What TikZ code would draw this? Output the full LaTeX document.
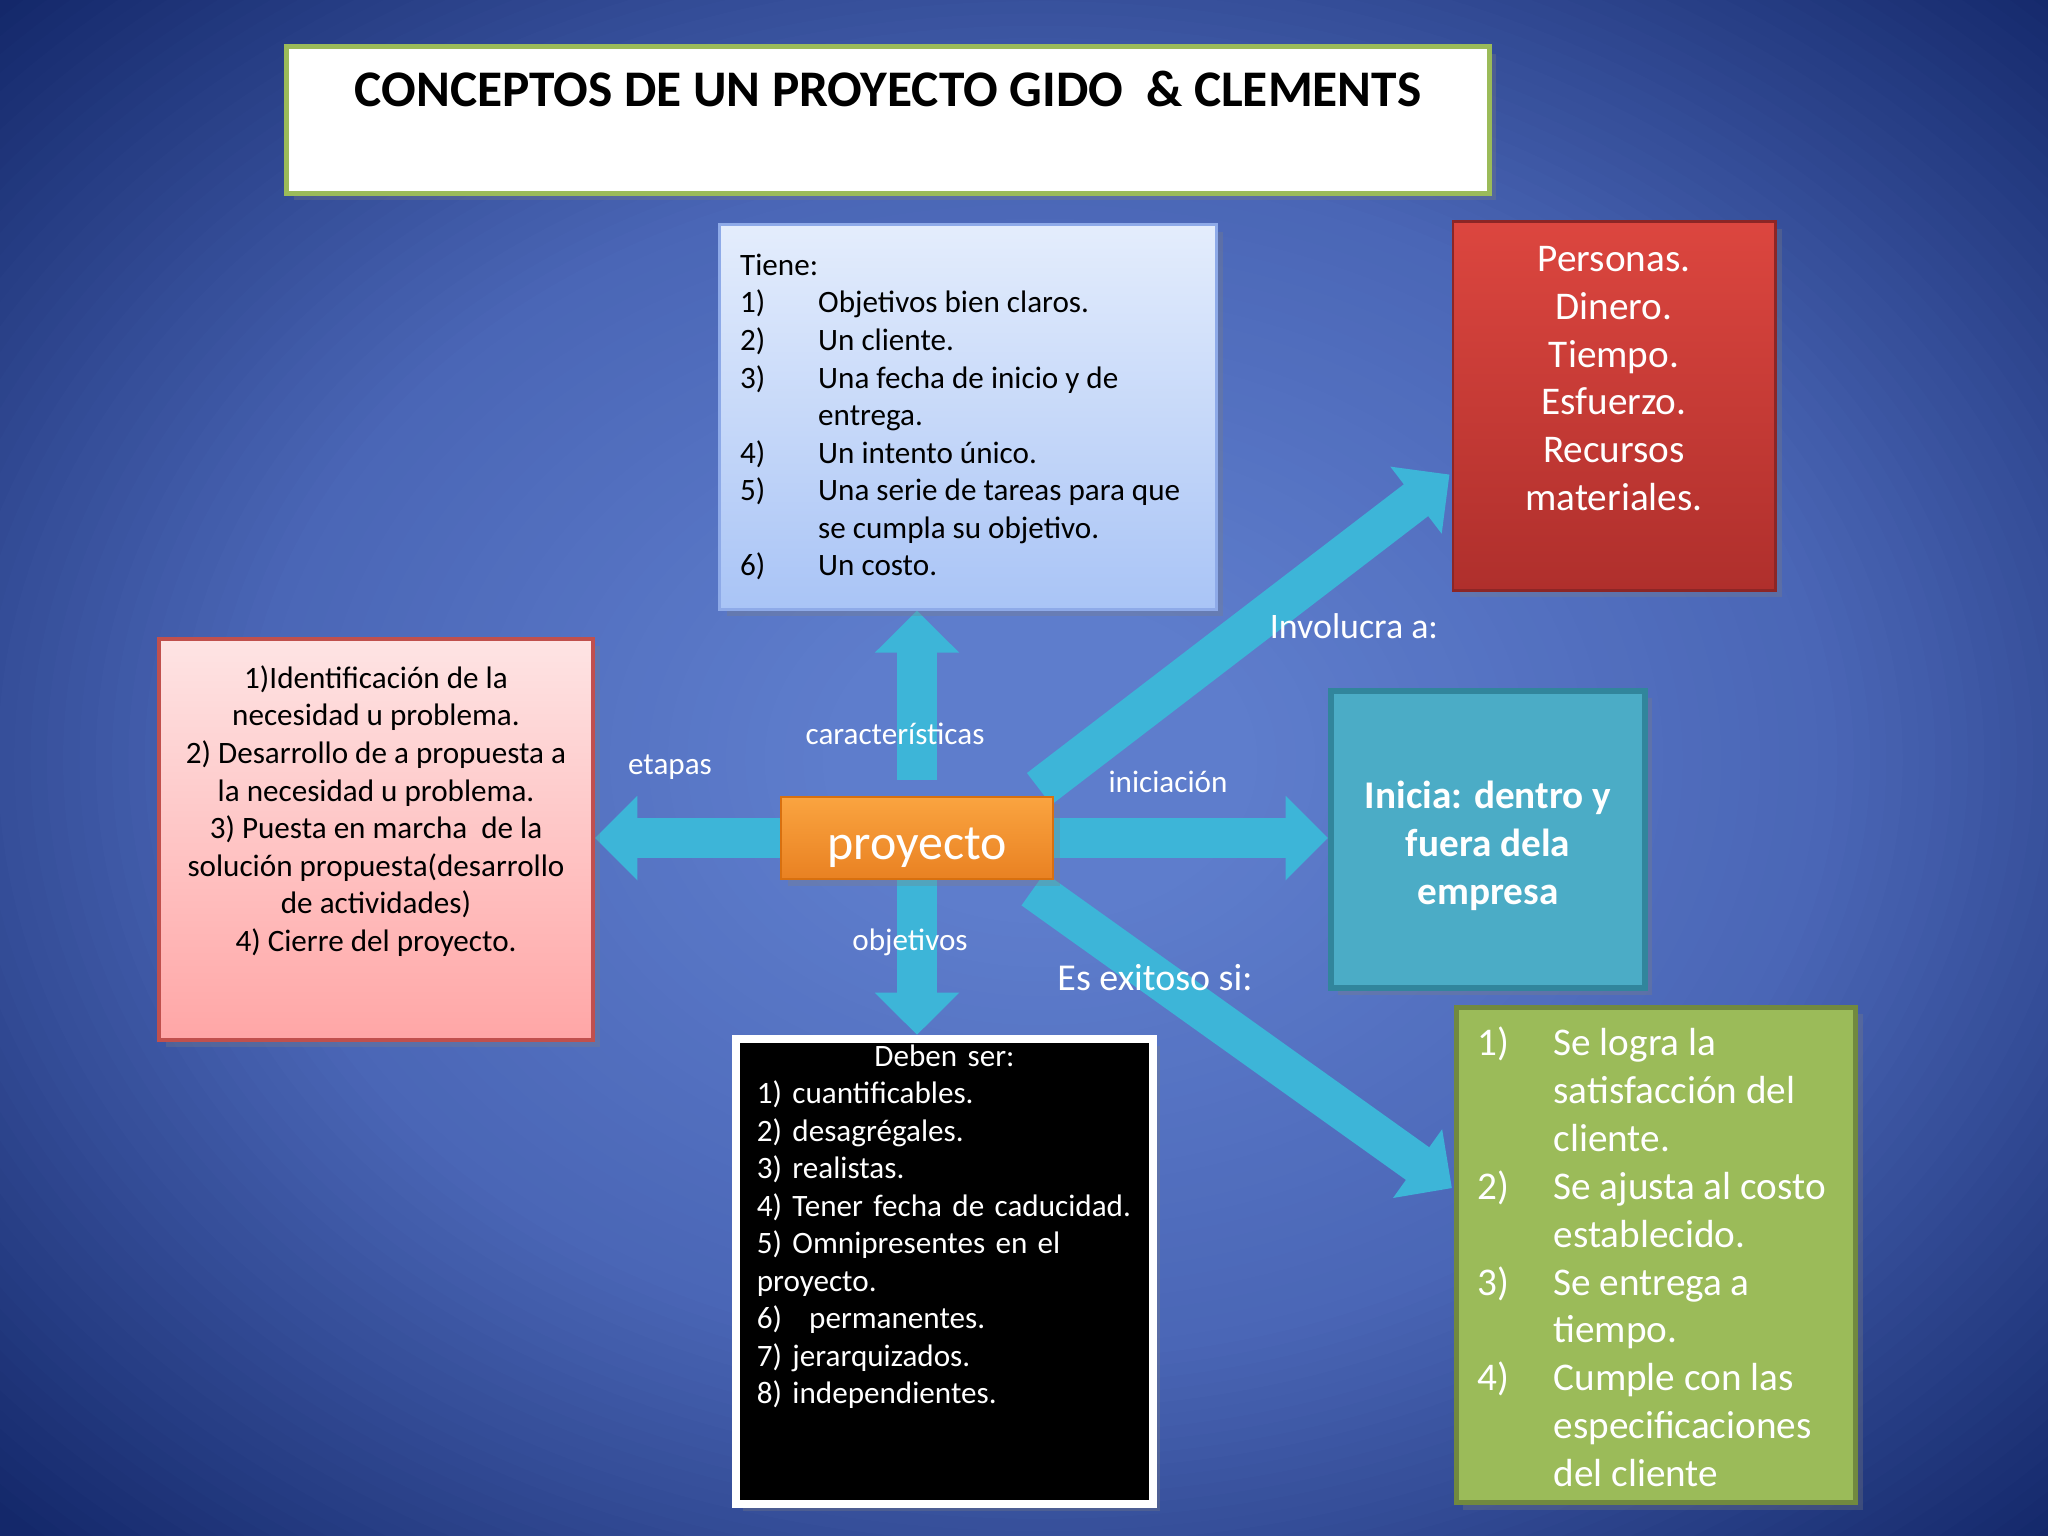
\documentclass[tikz,border=0pt]{standalone}
\usepackage{fontspec}
\setmainfont{Carlito}
\usepackage{tikz}
\usetikzlibrary{arrows.meta,positioning,calc,shadows}

\definecolor{bgIn}{HTML}{5E7DCC}
\definecolor{bgMid}{HTML}{4A66B6}
\definecolor{bgEdge}{HTML}{14286A}
\definecolor{flechaC}{HTML}{3DB5D8}
\definecolor{tituloV}{HTML}{9BBB59}
\definecolor{tieneA}{HTML}{E4EDFC}
\definecolor{tieneB}{HTML}{A9C4F6}
\definecolor{tieneL}{HTML}{8EAAE8}
\definecolor{rojoA}{HTML}{DC463F}
\definecolor{rojoB}{HTML}{AF2F2C}
\definecolor{rojoL}{HTML}{8C2626}
\definecolor{rosaA}{HTML}{FEE4E4}
\definecolor{rosaB}{HTML}{FFA6A6}
\definecolor{rosaL}{HTML}{C0504D}
\definecolor{tealF}{HTML}{4BACC6}
\definecolor{tealL}{HTML}{31859C}
\definecolor{verdeF}{HTML}{9BBB59}
\definecolor{verdeL}{HTML}{71893F}
\definecolor{naranjaA}{HTML}{FAA440}
\definecolor{naranjaB}{HTML}{E98122}
\definecolor{naranjaL}{HTML}{D8700F}

\pgfdeclarelayer{back}
\pgfdeclarelayer{flechas}
\pgfsetlayers{back,flechas,main}

\newcommand\chico{\fontsize{8.85pt}{10.67pt}\selectfont}
\newcommand\grande{\fontsize{11.15pt}{13.6pt}\selectfont}
\newcommand\titulo{\fontsize{14.6pt}{18pt}\selectfont\bfseries}
\newcommand\numt[1]{\makebox[22.2pt][l]{#1}}
\newcommand\numv[1]{\makebox[21.6pt][l]{#1}}

\begin{document}
\begin{tikzpicture}[
  x=0.01cm, y=-0.01cm,
  caja/.style={draw, inner sep=0pt, drop shadow={opacity=0.3, shadow xshift=2pt, shadow yshift=-2pt}},
  tie/.style={caja, top color=tieneA, bottom color=tieneB, draw=tieneL, line width=0.8pt},
  roja/.style={caja, top color=rojoA, bottom color=rojoB, draw=rojoL, line width=0.8pt},
  rosa/.style={caja, top color=rosaA, bottom color=rosaB, draw=rosaL, line width=1.1pt},
  negra/.style={caja, fill=black, draw=white, line width=2.3pt},
  teal/.style={caja, fill=tealF, draw=tealL, line width=1.7pt},
  verde/.style={caja, fill=verdeF, draw=verdeL, line width=1.4pt},
  txt/.style={inner sep=0pt, font=\chico},
  lbl/.style={inner sep=0pt, text=white, font=\chico},
  flecha/.style={line width=11.4pt, color=flechaC, -{Triangle[length=12pt, width=23.3pt]}}
]
\useasboundingbox (0,0) rectangle (2048,1536);
\begin{pgfonlayer}{back}
  \begin{scope}
    \clip (0,0) rectangle (2048,1536);
    \fill[bgEdge] (0,0) rectangle (2048,1536);
    \foreach \k in {0,...,40} {
      \pgfmathsetmacro\rr{1-0.45*\k/40}
      \pgfmathsetmacro\pp{100*\k/40}
      \fill[bgMid!\pp!bgEdge] (1040,760) ellipse [x radius=1450*\rr, y radius=1090*\rr];
    }
    \foreach \k in {1,...,30} {
      \pgfmathsetmacro\rr{0.55-0.4*\k/30}
      \pgfmathsetmacro\pp{100*\k/30}
      \fill[bgIn!\pp!bgMid] (1040,760) ellipse [x radius=1450*\rr, y radius=1090*\rr];
    }
  \end{scope}
\end{pgfonlayer}

% titulo
\node[caja, fill=white, draw=tituloV, line width=1.4pt,
  minimum width=12.02cm, minimum height=1.46cm] (tit) at (888,120) {};
\node[inner sep=0pt, font=\titulo, below=0.26cm of tit.north] (titT)
  {CONCEPTOS DE UN PROYECTO GIDO\ \ \& CLEMENTS};

% cajas
\node[tie, minimum width=4.96cm, minimum height=3.84cm] (tie) at (968,417) {};
\node[txt, align=left, anchor=west] (tieT) at ($(tie.west)+(21,0)$)
  {Tiene:\\
   \numt{1)}Objetivos bien claros.\\
   \numt{2)}Un cliente.\\
   \numt{3)}Una fecha de inicio y de\\
   \numt{}entrega.\\
   \numt{4)}Un intento único.\\
   \numt{5)}Una serie de tareas para que\\
   \numt{}se cumpla su objetivo.\\
   \numt{6)}Un costo.};

\node[roja, minimum width=3.22cm, minimum height=3.68cm] (rec) at (1614,406) {};
\node[txt, font=\grande, text=white, align=center, below=0.25cm of rec.north] (recT)
  {Personas.\\Dinero.\\Tiempo.\\Esfuerzo.\\Recursos\\materiales.};

\node[rosa, minimum width=4.34cm, minimum height=4.01cm] (etp) at (376,839.5) {};
\node[txt, align=center, below=0.28cm of etp.north] (etpT)
  {1)Identificación de la\\
   necesidad u problema.\\
   2) Desarrollo de a propuesta a\\
   la necesidad u problema.\\
   3) Puesta en marcha\ \ de la\\
   solución propuesta(desarrollo\\
   de actividades)\\
   4) Cierre del proyecto.};

\node[negra, minimum width=4.17cm, minimum height=4.65cm] (obj) at (944.5,1271.5) {};
\node[txt, text=white, text width=3.75cm, align=left, below=0.09cm of obj.north] (objT)
  {\makebox[\hsize]{Deben ser:}\\
   1) cuantificables.\\
   2) desagrégales.\\
   3) realistas.\\
   4) Tener fecha de caducidad.\\
   5) Omnipresentes en el\\
   proyecto.\\
   6)\hspace{7.7pt}permanentes.\\
   7) jerarquizados.\\
   8) independientes.};

\node[teal, minimum width=3.14cm, minimum height=2.97cm] (ini) at (1488,839.5) {};
\node[txt, text=white, font=\grande\bfseries, align=center] (iniT)
  at ($(ini.center)+(0,6)$) {Inicia: dentro y\\fuera dela\\empresa};

\node[verde, minimum width=3.99cm, minimum height=4.95cm] (exi) at (1656,1255) {};
\node[txt, text=white, font=\grande, align=left, anchor=west] (exiT)
  at ($(exi.west)+(23,2)$)
  {\numv{1)}Se logra la\\
   \numv{}satisfacción del\\
   \numv{}cliente.\\
   \numv{2)}Se ajusta al costo\\
   \numv{}establecido.\\
   \numv{3)}Se entrega a\\
   \numv{}tiempo.\\
   \numv{4)}Cumple con las\\
   \numv{}especificaciones\\
   \numv{}del cliente};

\node[caja, top color=naranjaA, bottom color=naranjaB, draw=naranjaL, line width=0.6pt,
  minimum width=2.72cm, minimum height=0.82cm, text=white, text height=12.3pt, text depth=0pt,
  font=\fontsize{14.2pt}{17pt}\selectfont] (pro) at (917,838) {proyecto};

% flechas
\begin{pgfonlayer}{flechas}
  \draw[flecha, shorten <=4.5pt] (pro.north) -- (pro.north |- tie.south);
  \draw[flecha] (pro.south) -- (pro.south |- obj.north);
  \draw[flecha] (pro.west) -- (etp.east |- pro.west);
  \draw[flecha] (pro.east) -- (ini.west |- pro.east);
  \draw[flecha] ($(pro.north east)+(-15,-7)$) -- ($(rec.south west)+(-2,-117)$);
  \draw[flecha] ($(pro.south east)+(-21,9)$) -- ($(exi.south west)+(-2,-317)$);
\end{pgfonlayer}

% etiquetas
\node[lbl] (lCar) at (895,734) {características};
\node[lbl] (lEta) at (670,767) {etapas};
\node[lbl] (lIni) at (1168,782) {iniciación};
\node[lbl] (lObj) at (910,942) {objetivos};
\node[lbl, font=\fontsize{10.2pt}{12pt}\selectfont] (lInv) at (1354,626) {Involucra a:};
\node[lbl, font=\fontsize{10.8pt}{13pt}\selectfont] (lExi) at (1155,978) {Es exitoso si:};
\end{tikzpicture}
\end{document}
